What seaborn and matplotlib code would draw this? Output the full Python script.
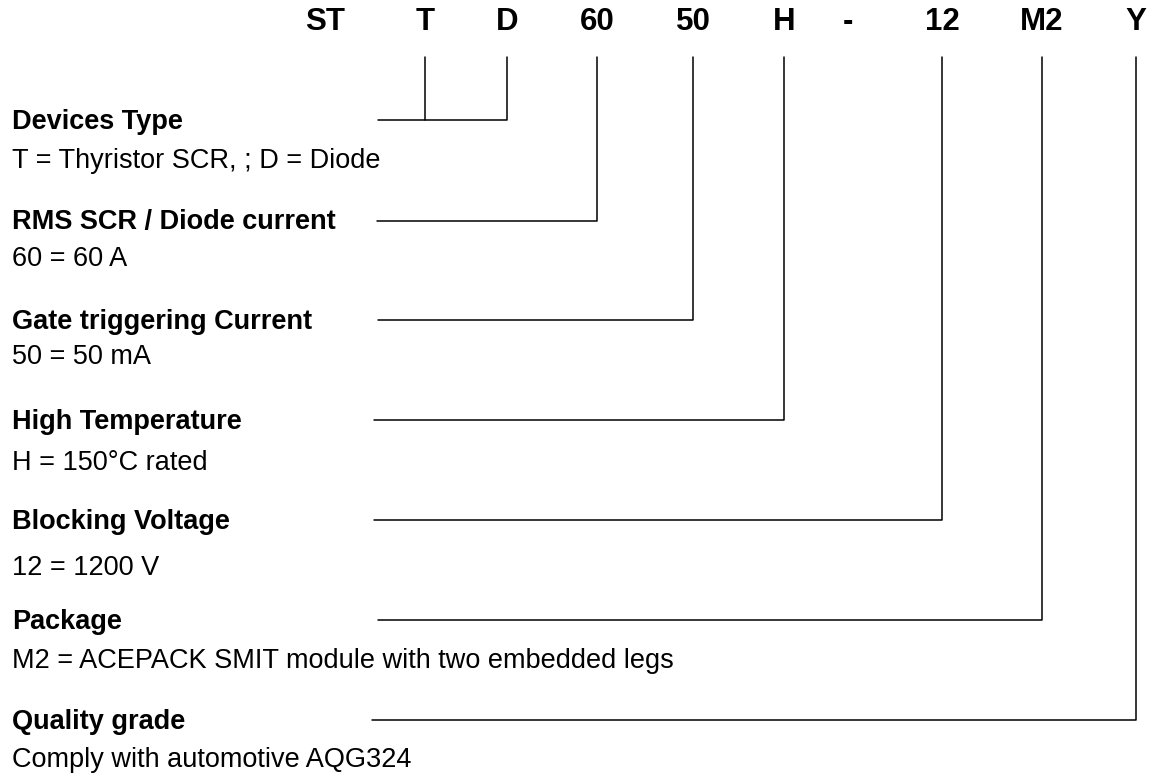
import pandas as pd
import seaborn as sns
import matplotlib.pyplot as plt

# Data
codes = ['ST', 'T', 'D', '60', '50', 'H', '-', '12', 'M2', 'Y']
headings = [
    'Devices Type',
    'RMS SCR / Diode current',
    'Gate triggering Current',
    'High Temperature',
    'Blocking Voltage',
    'Package',
    'Quality grade',
]
descriptions = [
    'T = Thyristor SCR, ; D = Diode',
    '60 = 60 A',
    '50 = 50 mA',
    'H = 150°C rated',
    '12 = 1200 V',
    'M2 = ACEPACK SMIT module with two embedded legs',
    'Comply with automotive AQG324',
]
# which code(s) each heading points to
links = [['T', 'D'], ['60'], ['50'], ['H'], ['12'], ['M2'], ['Y']]

# Layout (pixel space)
code_x = [325, 425, 507, 597, 693, 784, 848, 942, 1042, 1136]
code_y = 22
line_top = 57
line_y = [120, 221, 320, 420, 520, 620, 720]
line_start = [378, 377, 378, 374, 374, 378, 372]
head_y = [122, 222, 322, 422, 522, 622, 722]
desc_y = [161, 259, 357, 463, 568, 661, 760]

xpos = dict(zip(codes, code_x))

# Connector paths
rows = []
for i, targets in enumerate(links):
    far = max(xpos[c] for c in targets)
    seg = f'h{i}'
    rows.append((seg, line_start[i], line_y[i]))
    rows.append((seg, far, line_y[i]))
    rows.append((seg, far, line_top))
    for c in targets:
        if xpos[c] != far:
            rows.append((f'v{i}{c}', xpos[c], line_y[i]))
            rows.append((f'v{i}{c}', xpos[c], line_top))
paths = pd.DataFrame(rows, columns=['seg', 'x', 'y'])

sns.set_theme(style='white')
plt.rcParams['font.family'] = ['Liberation Sans', 'DejaVu Sans']

fig = plt.figure(figsize=(11.59, 7.82), dpi=100)
ax = fig.add_axes([0, 0, 1, 1])

sns.lineplot(
    data=paths, x='x', y='y', units='seg', estimator=None, sort=False,
    color='black', linewidth=1.1, ax=ax
)

for c, x in zip(codes, code_x):
    ax.text(x, code_y, c, ha='center', va='center', color='black',
            fontsize=22.5, fontweight='bold')

for h, d, hy, dy in zip(headings, descriptions, head_y, desc_y):
    ax.text(12, hy, h, ha='left', va='center', color='black',
            fontsize=19.5, fontweight='bold')
    ax.text(12, dy, d, ha='left', va='center', color='black', fontsize=19.5)

ax.set_xlim(0, 1159)
ax.set_ylim(782, 0)
ax.axis('off')

fig.savefig('out.png', dpi=100)
